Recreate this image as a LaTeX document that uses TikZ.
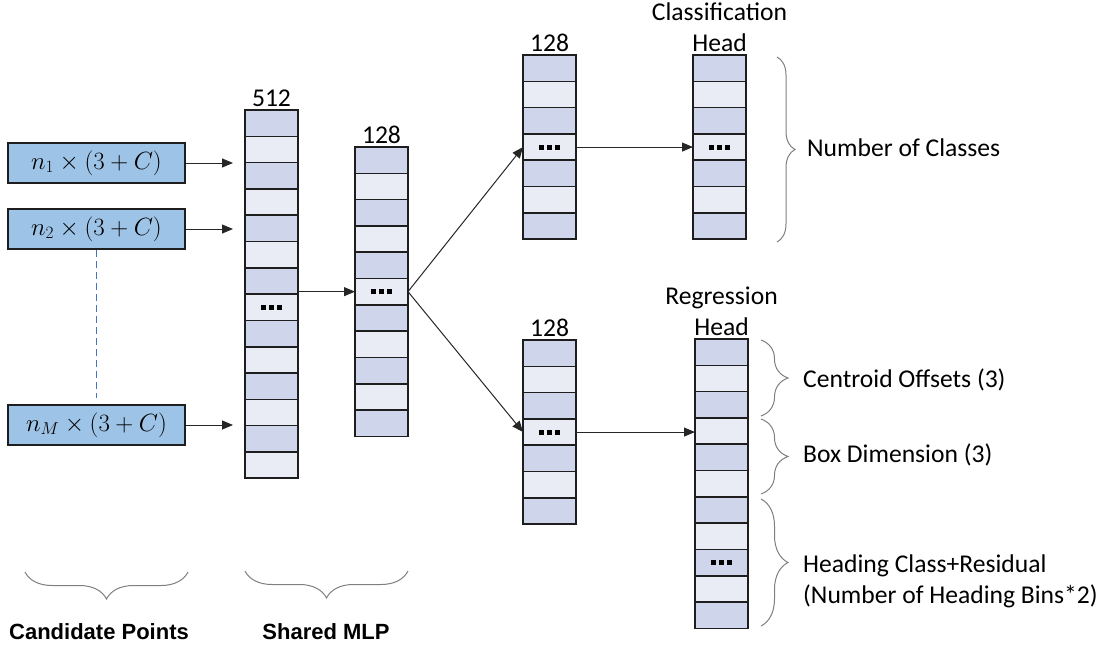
\documentclass[tikz,border=0pt]{standalone}
\usepackage{fontspec}
\setmainfont{Carlito}
\newfontfamily\captionfont{Liberation Sans}
\usetikzlibrary{arrows.meta,decorations.pathreplacing}

\definecolor{cellDark}{HTML}{CFD5EA}
\definecolor{cellLight}{HTML}{E9EBF5}
\definecolor{inputFill}{HTML}{9DC3E6}
\definecolor{edgeDark}{HTML}{1E1E1E}
\definecolor{braceGray}{HTML}{7F7F7F}
\definecolor{dashBlue}{HTML}{4472C4}

% three small squares marking the elided entries of a feature vector
\newcommand\ellipsisbox{\rule{5pt}{5pt}\hspace{3pt}\rule{5pt}{5pt}\hspace{3pt}\rule{5pt}{5pt}}

% \featurecolumn{name}{left x}{top y}{number of cells}{cell holding the dots}
\newcommand\featurecolumn[5]{%
  \foreach \i in {1,...,#4}{%
    \pgfmathtruncatemacro\parity{mod(\i,2)}%
    \ifnum\parity=1 \def\cellfill{cellDark}\else\def\cellfill{cellLight}\fi
    \node[cellbox, fill=\cellfill] (#1-\i) at ({#2+26.5},{#3+(\i-0.5)*26.3}) {\ifnum\i=#5 \ellipsisbox\fi};
  }%
}

\tikzset{
  cellbox/.style={draw=edgeDark, line width=1.6pt, minimum width=53pt, minimum height=26.3pt,
    inner sep=0pt, outer sep=0pt},
  inbox/.style={draw=edgeDark, line width=1.6pt, fill=inputFill, minimum width=177pt,
    minimum height=40pt, inner sep=0pt, font=\fontsize{24}{28}\selectfont},
  arr/.style={-{Triangle[length=11pt,width=9pt]}, line width=1pt, draw=black!85},
  dimlabel/.style={anchor=south, inner sep=3.5pt, align=center},
  note/.style={anchor=west, inner sep=0pt, align=left},
  curly/.style={decorate, decoration={brace, amplitude=#1}, draw=braceGray, line width=1pt},
  caption/.style={font=\captionfont\bfseries\fontsize{22}{26}\selectfont},
}

\begin{document}
\begin{tikzpicture}[x=1pt, y=-1pt, font=\fontsize{25.6}{31}\selectfont]
\useasboundingbox (0,0) rectangle (1112,648);

% candidate point groups
\node[inbox] (in1) at (96.5,163) {$n_1\times(3+C)$};
\node[inbox] (in2) at (96.5,229) {$n_2\times(3+C)$};
\node[inbox] (inM) at (96.5,425) {$n_M\times(3+C)$};
\draw[dashBlue, line width=1.5pt, dash pattern=on 7pt off 4pt, shorten >=6pt] (in2.south) -- (inM.north);

% feature vectors
\featurecolumn{A}{245}{110}{14}{8}
\featurecolumn{B}{355}{147}{11}{6}
\featurecolumn{C}{523}{55}{7}{4}
\featurecolumn{D}{693}{55}{7}{4}
\featurecolumn{E}{523}{340}{7}{4}
\featurecolumn{F}{695}{339}{11}{9}

% sizes and head titles
\node[dimlabel] (lblA) at (A-1.north) {512};
\node[dimlabel] (lblB) at (B-1.north) {128};
\node[dimlabel] (lblC) at (C-1.north) {128};
\node[dimlabel] (lblE) at (E-1.north) {128};
\node[dimlabel] (lblD) at (D-1.north) {Classification\\Head};
\node[dimlabel] (lblF) at (F-1.north) {Regression\\Head};

% connections
\draw[arr, shorten >=12pt] (in1.east) -- (in1.east -| A-1.west);
\draw[arr, shorten >=12pt] (in2.east) -- (in2.east -| A-1.west);
\draw[arr, shorten >=12pt] (inM.east) -- (inM.east -| A-1.west);
\draw[arr] (B-6.west -| A-1.east) -- (B-6.west);
\draw[arr] (B-6.east) -- (C-4.west);
\draw[arr] (B-6.east) -- (E-4.west);
\draw[arr] (C-4.east) -- (D-4.west);
\draw[arr] (E-4.east) -- (E-4.east -| F-1.west);

% output annotations
\draw[curly=18pt] (777,57) -- (777,242);
\node[note] (nCls) at (807,148) {Number of Classes};
\draw[curly=27pt] (761,340) -- (761,416);
\node[note] (nCen) at (803,380) {Centroid Offsets (3)};
\draw[curly=27pt] (761,419) -- (761,494);
\node[note] (nBox) at (803,455) {Box Dimension (3)};
\draw[curly=27pt] (761,499) -- (761,626);
\node[note] (nHead) at (803,581) {Heading Class+Residual\\(Number of Heading Bins*2)};

% stage captions
\draw[curly=27pt] (188,572) -- (25,572);
\node[caption] (capIn) at (99,632) {Candidate Points};
\draw[curly=27pt] (408,571) -- (245,571);
\node[caption] (capMlp) at (326,632) {Shared MLP};
\end{tikzpicture}
\end{document}
